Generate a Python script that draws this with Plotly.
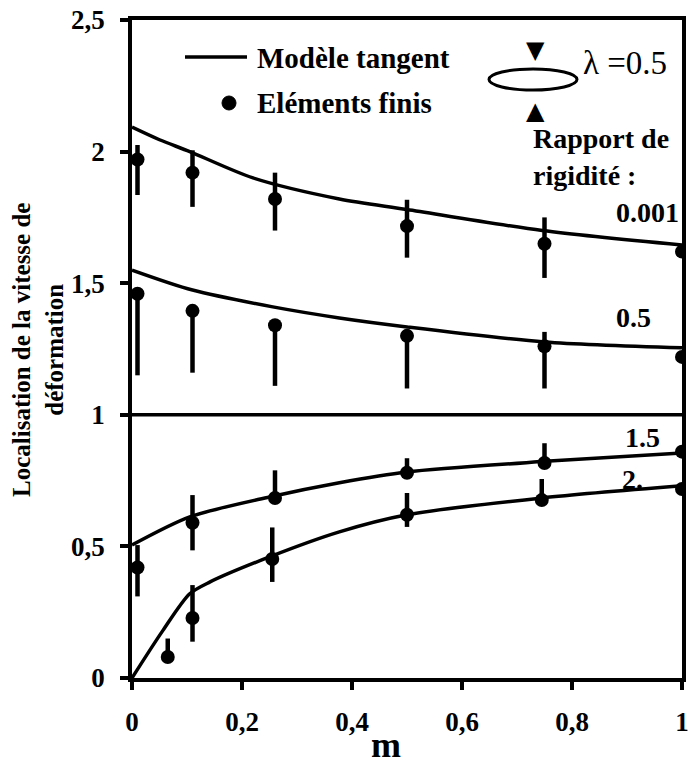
import plotly.graph_objects as go

# ---------------- data ----------------
# Tangent model curves (rigidity ratio)
curve_0001_m = [0.0, 0.05, 0.105, 0.22, 0.377, 0.50, 0.746, 1.0]
curve_0001_y = [2.093, 2.045, 2.00, 1.90, 1.82, 1.78, 1.70, 1.645]

curve_05_m = [0.0, 0.11, 0.256, 0.377, 0.50, 0.75, 1.0]
curve_05_y = [1.55, 1.474, 1.41, 1.368, 1.334, 1.277, 1.255]

curve_15_m = [0.0, 0.105, 0.25, 0.377, 0.50, 0.759, 1.0]
curve_15_y = [0.505, 0.612, 0.688, 0.742, 0.783, 0.824, 0.855]

curve_2_m = [0.0, 0.056, 0.105, 0.142, 0.25, 0.377, 0.50, 0.746, 1.0]
curve_2_y = [0.0, 0.18, 0.32, 0.365, 0.46, 0.555, 0.62, 0.684, 0.73]

# Finite element results
fe_m = [0.01, 0.11, 0.26, 0.50, 0.75, 1.00]

fe_0001_y = [1.97, 1.92, 1.82, 1.717, 1.65, 1.62]
fe_0001_up = [0.055, 0.085, 0.10, 0.10, 0.10, 0.0]
fe_0001_dn = [0.135, 0.13, 0.12, 0.12, 0.13, 0.0]

fe_05_y = [1.46, 1.395, 1.34, 1.30, 1.26, 1.22]
fe_05_up = [0.0, 0.0, 0.0, 0.0, 0.055, 0.0]
fe_05_dn = [0.31, 0.235, 0.23, 0.20, 0.16, 0.0]

fe_15_y = [0.42, 0.59, 0.684, 0.78, 0.817, 0.86]
fe_15_up = [0.085, 0.105, 0.105, 0.055, 0.075, 0.0]
fe_15_dn = [0.11, 0.105, 0.0, 0.0, 0.0, 0.0]

fe_2_m = [0.065, 0.11, 0.255, 0.50, 0.745, 1.00]
fe_2_y = [0.08, 0.228, 0.452, 0.62, 0.676, 0.718]
fe_2_up = [0.07, 0.125, 0.12, 0.083, 0.08, 0.0]
fe_2_dn = [0.0, 0.09, 0.087, 0.046, 0.0, 0.0]

reference_level = 1.0

x_tickvals = [0, 0.2, 0.4, 0.6, 0.8, 1]
x_ticktext = ["0", "0,2", "0,4", "0,6", "0,8", "1"]
y_tickvals = [0, 0.5, 1, 1.5, 2, 2.5]
y_ticktext = ["0", "0,5", "1", "1,5", "2", "2,5"]

# ---------------- layout geometry ----------------
W, H = 689, 780
PLOT_L, PLOT_R, PLOT_T, PLOT_B = 132, 682, 20, 678   # screen pixels
L, T = PLOT_L, PLOT_T
R = W - PLOT_R
B = H - PLOT_B
PW, PH = PLOT_R - PLOT_L, PLOT_B - PLOT_T


def px(x):
    return (x - PLOT_L) / PW


def py(y):
    return (PLOT_B - y) / PH


FONT = "Liberation Serif"
fig = go.Figure()

for xs, ys in [(curve_0001_m, curve_0001_y), (curve_05_m, curve_05_y),
               (curve_15_m, curve_15_y), (curve_2_m, curve_2_y)]:
    fig.add_trace(go.Scatter(x=xs, y=ys, mode="lines",
                             line=dict(color="black", width=3.5, shape="spline", smoothing=0.8),
                             showlegend=False, hoverinfo="skip"))

for xs, ys, up, dn in [(fe_m, fe_0001_y, fe_0001_up, fe_0001_dn),
                       (fe_m, fe_05_y, fe_05_up, fe_05_dn),
                       (fe_m, fe_15_y, fe_15_up, fe_15_dn),
                       (fe_2_m, fe_2_y, fe_2_up, fe_2_dn)]:
    fig.add_trace(go.Scatter(x=xs, y=ys, mode="markers",
                             marker=dict(color="black", size=14, symbol="circle"),
                             error_y=dict(type="data", symmetric=False, array=up, arrayminus=dn,
                                          color="black", thickness=4.5, width=0),
                             showlegend=False))

shapes = [
    # legend line sample
    dict(type="line", xref="paper", yref="paper", x0=px(185), x1=px(247), y0=py(57), y1=py(57),
         line=dict(color="black", width=3.5)),
    # legend dot sample
    dict(type="circle", xref="paper", yref="paper", x0=px(222), x1=px(236), y0=py(110), y1=py(96),
         fillcolor="black", line=dict(color="black", width=1)),
    # ellipse symbol
    dict(type="circle", xref="paper", yref="paper", x0=px(489), x1=px(577), y0=py(90), y1=py(69),
         line=dict(color="black", width=3)),
]

ann_font = dict(family=FONT, size=28, color="black", weight="bold")
leg_font = dict(family=FONT, size=29, color="black", weight="bold")
annotations = [
    dict(text="Modèle tangent", x=px(255), y=py(58), xanchor="left", yanchor="middle", font=leg_font),
    dict(text="Eléments finis", x=px(255), y=py(103), xanchor="left", yanchor="middle", font=leg_font),
    dict(text="Rapport de", x=px(531), y=py(138), xanchor="left", yanchor="middle", font=ann_font),
    dict(text="rigidité :", x=px(531), y=py(175), xanchor="left", yanchor="middle", font=ann_font),
    dict(text="0.001", x=px(681), y=py(213), xanchor="right", yanchor="middle", font=ann_font),
    dict(text="0.5", x=px(633), y=py(317), xanchor="center", yanchor="middle", font=ann_font),
    dict(text="1.5", x=px(642), y=py(437), xanchor="center", yanchor="middle", font=ann_font),
    dict(text="2.", x=px(632), y=py(479), xanchor="center", yanchor="middle", font=ann_font),
]
for a in annotations:
    a.update(xref="paper", yref="paper", showarrow=False)

annotations += [
    dict(text="▼", x=px(535), y=py(50), xref="paper", yref="paper", showarrow=False,
         xanchor="center", yanchor="middle", font=dict(family="DejaVu Sans", size=24, color="black")),
    dict(text="▲", x=px(535), y=py(111), xref="paper", yref="paper", showarrow=False,
         xanchor="center", yanchor="middle", font=dict(family="DejaVu Sans", size=24, color="black")),
    dict(text="λ =0.5", x=px(581), y=py(63), xref="paper", yref="paper", showarrow=False,
         xanchor="left", yanchor="middle", font=dict(family=FONT, size=33, color="black")),
    dict(text="Localisation de la vitesse de<br>déformation", x=px(38), y=py(350),
         xref="paper", yref="paper", showarrow=False, textangle=-90,
         xanchor="center", yanchor="middle",
         font=dict(family=FONT, size=25, color="black", weight="bold")),
    dict(text="m", x=px(386), y=py(745), xref="paper", yref="paper", showarrow=False,
         xanchor="center", yanchor="middle",
         font=dict(family=FONT, size=36, color="black", weight="bold")),
]

tick_font = dict(family=FONT, size=27, color="black", weight="bold")
fig.update_layout(
    width=W, height=H,
    margin=dict(l=L, r=R, t=T, b=B, autoexpand=False),
    paper_bgcolor="white", plot_bgcolor="white",
    shapes=shapes, annotations=annotations,
    showlegend=False,
    xaxis=dict(range=[0, 1], tickvals=x_tickvals, ticktext=x_ticktext,
               showgrid=False, zeroline=False, showline=True, mirror=True,
               linecolor="black", linewidth=3.5, ticks="outside", ticklen=8, tickwidth=3.5,
               tickcolor="black", tickfont=tick_font, ticklabelstandoff=9,
               ticklabeloverflow="allow", automargin=False),
    yaxis=dict(range=[0, 2.5], tickvals=y_tickvals, ticktext=y_ticktext,
               showgrid=False, zeroline=False, showline=True, mirror=True,
               linecolor="black", linewidth=3.5, ticks="outside", ticklen=8, tickwidth=3.5,
               tickcolor="black", tickfont=tick_font, ticklabelstandoff=10,
               ticklabeloverflow="allow", automargin=False),
)

fig.add_hline(y=reference_level, line=dict(color="black", width=3.5))

fig.write_html("out.html", config={"displayModeBar": False},
               post_script="document.body.style.margin='0';")
